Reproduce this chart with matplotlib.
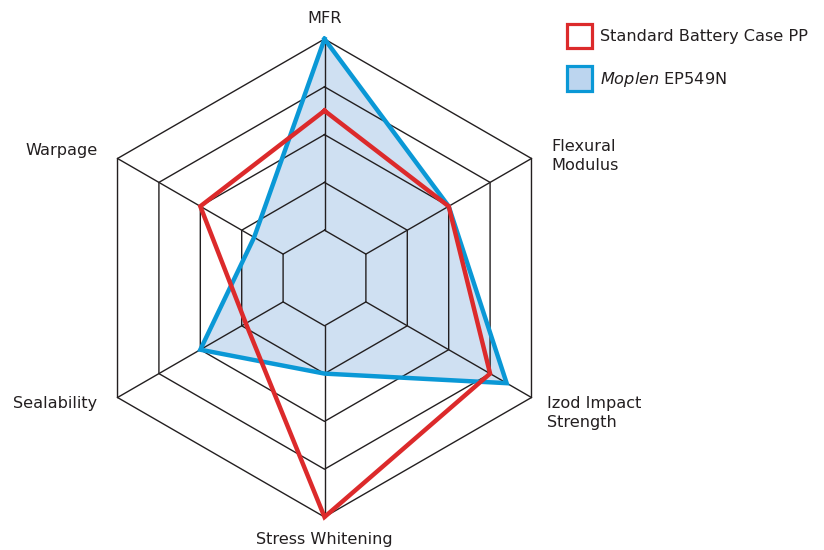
import matplotlib.pyplot as plt
import numpy as np
from matplotlib.patches import Patch

# Data
labels = ["MFR", "Flexural\nModulus", "Izod Impact\nStrength",
          "Stress Whitening", "Sealability", "Warpage"]
standard_pp = [3.5, 3, 4, 5, 1.9, 3]
moplen = [5, 3, 4.4, 2, 3, 1.7]
rings = [1, 2, 3, 4, 5]

red = '#dc2a2b'
blue = '#0a98d6'
fill = '#cfe0f2'
gridc = '#231f20'

plt.rcParams['font.family'] = 'DejaVu Sans'

fig = plt.figure(figsize=(8.24, 5.5), dpi=100)
ax = fig.add_axes([0, 0, 1, 1])
px = 47.8            # pixels per ring
cx, cy = 324.5, 278  # centre in pixels
ax.set_xlim(-cx / px, (824 - cx) / px)
ax.set_ylim(-(550 - cy) / px, cy / px)
ax.axis('off')

ang = np.deg2rad(90 - 60 * np.arange(len(labels)))

def closed(vals):
    v = np.append(vals, vals[0])
    a = np.append(ang, ang[0])
    return v * np.cos(a), v * np.sin(a)

# filled area of Moplen
ax.fill(*closed(moplen), color=fill, lw=0, zorder=1)

# hexagon grid
for r in rings:
    ax.plot(*closed([r] * len(labels)), color=gridc, lw=1.0, zorder=2)
for a in ang:
    ax.plot([rings[0] * np.cos(a), rings[-1] * np.cos(a)],
            [rings[0] * np.sin(a), rings[-1] * np.sin(a)], color=gridc, lw=1.0, zorder=2)

ax.plot(*closed(moplen), color=blue, lw=3.2, zorder=3, solid_joinstyle='miter')
ax.plot(*closed(standard_pp), color=red, lw=3.2, zorder=4, solid_joinstyle='miter')

# axis labels
offsets = [(0, 15), (14, 2), (11.5, -11), (0, -16.5), (-14.5, -4.5), (-14.5, 6)]
aligns = ['center', 'left', 'left', 'center', 'right', 'right']
for lab, a, off, ha in zip(labels, ang, offsets, aligns):
    ax.annotate(lab, (rings[-1] * np.cos(a), rings[-1] * np.sin(a)), xytext=off,
                textcoords='offset points', ha=ha, va='center', fontsize=11.6,
                color='#231f20', linespacing=1.3)

handles = [Patch(facecolor='white', edgecolor=red, lw=2.3),
           Patch(facecolor='#bcd5ef', edgecolor=blue, lw=2.3)]
ax.legend(handles, ['Standard Battery Case PP', r'$\mathit{Moplen}$ EP549N'],
          loc='upper left', bbox_to_anchor=(567 / 824, 1 - 24 / 550),
          bbox_transform=fig.transFigure, frameon=False, fontsize=11.6,
          handlelength=1.55, handleheight=1.94, handletextpad=0.5,
          labelspacing=1.12, borderpad=0, borderaxespad=0, labelcolor='#231f20')

fig.savefig('out.png', dpi=100)
